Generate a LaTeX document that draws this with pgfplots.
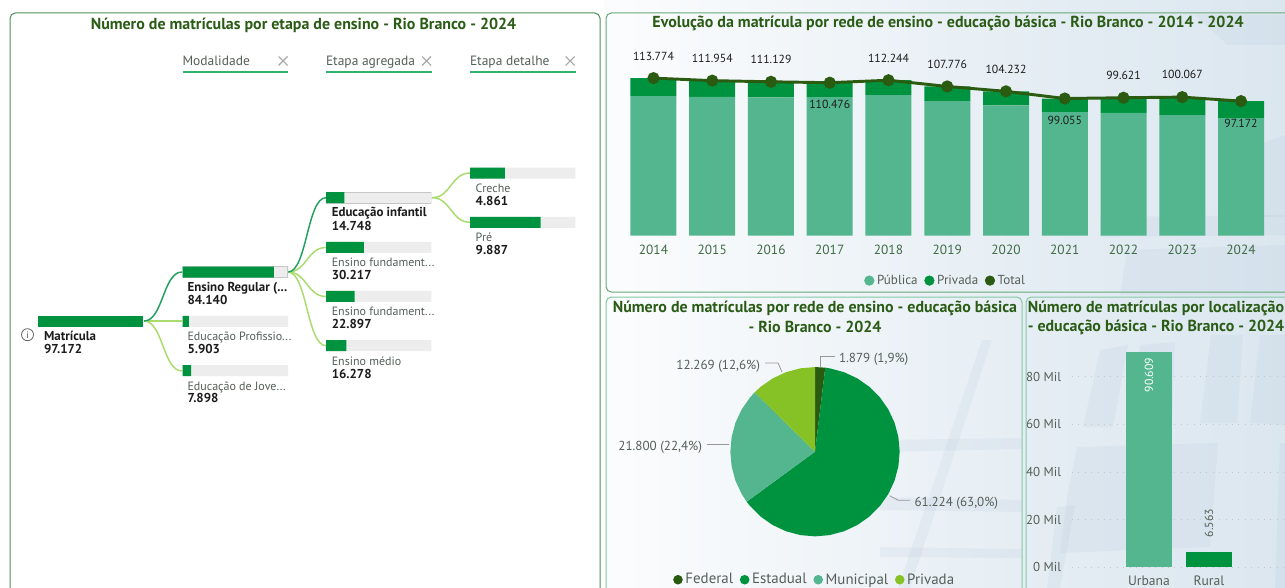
\documentclass[border=0pt]{standalone}
\usepackage{pgfplots}
\pgfplotsset{compat=1.18}
\usepackage{fontspec}
\setmainfont{PT Sans}
\definecolor{cDark}{HTML}{2B5A11}
\definecolor{cGreen}{HTML}{00933F}
\definecolor{cTeal}{HTML}{54B68E}
\definecolor{cLime}{HTML}{86C226}
\definecolor{cTitle}{HTML}{2A5C15}
\definecolor{cText}{HTML}{555F58}
\definecolor{cYear}{HTML}{3F6B45}
\definecolor{cBlack}{HTML}{1C1C1C}
\definecolor{cBar}{HTML}{EDEDED}
\definecolor{cUnder}{HTML}{2FB36F}
\definecolor{cLight}{HTML}{A9DB6E}
\definecolor{cSel}{HTML}{22A05E}
\definecolor{cBorderA}{HTML}{4D8F5A}
\definecolor{cBorderB}{HTML}{84C9A5}
\definecolor{cBgA}{HTML}{E6EEF4}
\definecolor{cBgB}{HTML}{CDDDE9}
\definecolor{cTile}{HTML}{AEBFD6}
\pgfdeclarehorizontalshading{bgshade}{100bp}{color(0bp)=(white); color(20bp)=(white); color(55bp)=(cBgA); color(100bp)=(cBgB)}
\newcommand{\ftitle}{\fontsize{11.95}{13}\selectfont\bfseries\color{cTitle}}
\newcommand{\fsmall}{\fontsize{9.7}{11}\selectfont}
\newcommand{\ftree}{\fontsize{9}{11}\selectfont}
\newcommand{\flab}{\fontsize{8.8}{10}\selectfont}
\begin{document}
\begin{tikzpicture}
\begin{scope}[x=0.75pt,y=-0.75pt]
\path[use as bounding box] (0,0) rectangle (1285,588);
\end{scope}
\clip (0,0) rectangle (963.75pt,-441pt);
\begin{scope}[x=0.75pt,y=-0.75pt,
  txt/.style={inner sep=0pt,outer sep=0pt,anchor=west,font=\ftree,text=cText,text height=8pt,text depth=1.5pt},
  val/.style={inner sep=0pt,outer sep=0pt,anchor=west,font=\fsmall\bfseries,text=cBlack,text height=8pt,text depth=1.5pt},
  lead/.style={draw=black!40,line width=.6pt},
  tile/.style={fill=cTile,fill opacity=.14,draw=none}]
\fill[white] (0,0) rectangle (1285,588);
\shade[shading=bgshade] (604,0) rectangle (1285,588);
% background tiles
\fill[tile] (1083,427) -- (1100,350) -- (1128,345) -- (1113,427) -- cycle;
\fill[tile] (1140,345) -- (1175,342) -- (1172,427) -- (1130,427) -- cycle;
\fill[tile] (1200,423) -- (1211,335) -- (1243,335) -- (1237,423) -- cycle;
\fill[tile] (1250,423) -- (1260,335) -- (1285,335) -- (1285,425) -- cycle;
\fill[tile] (1067,498) -- (1077,447) -- (1218,443) -- (1210,547) -- (1060,553) -- cycle;
\fill[tile] (1280,443) -- (1285,443) -- (1285,588) -- (1275,588) -- cycle;
\fill[tile] (1047,588) -- (1057,507) -- (1075,505) -- (1060,588) -- cycle;
\fill[tile] (880,440) -- (1022,438) -- (1022,449) -- (880,452) -- cycle;
\fill[tile] (880,497) -- (1022,500) -- (1022,512) -- (880,510) -- cycle;
\fill[tile] (880,547) -- (1022,549) -- (1022,558) -- (880,557) -- cycle;
\fill[tile] (982,340) -- (992,340) -- (910,588) -- (898,588) -- cycle;
\fill[tile] (1263,143) -- (1285,135) -- (1285,217) -- (1263,217) -- cycle;
\fill[tile] (1120,295) -- (1127,250) -- (1285,245) -- (1285,295) -- cycle;
\fill[tile] (1195,15) -- (1285,15) -- (1285,45) -- (1228,45) -- cycle;
\fill[tile] (1100,217) -- (1285,215) -- (1285,235) -- (1100,237) -- cycle;
% panels
\draw[cBorderA,line width=.75pt,rounded corners=4pt] (10,13) rectangle (600,610);
\draw[cBorderB!70!cDark,line width=.75pt,rounded corners=4pt] (606,13) rectangle (1300,292);
\draw[cBorderB,line width=.75pt,rounded corners=4pt] (606,297) rectangle (1022,610);
\draw[cBorderB,line width=.75pt,rounded corners=4pt] (1026,297) rectangle (1300,610);
% titles
\node[inner sep=0pt,font=\ftitle] at (303.5,25) {Número de matrículas por etapa de ensino - Rio Branco - 2024};
\node[inner sep=0pt,font=\ftitle] at (948,23) {Evolução da matrícula por rede de ensino - educação básica - Rio Branco - 2014 - 2024};
\node[inner sep=0pt,font=\ftitle] at (815,308) {Número de matrículas por rede de ensino - educação básica};
\node[inner sep=0pt,font=\ftitle] at (815,327) {- Rio Branco - 2024};
\node[inner sep=0pt,font=\ftitle] at (1156,308) {Número de matrículas por localização};
\node[inner sep=0pt,font=\ftitle] at (1156,327) {- educação básica - Rio Branco - 2024};
% tree headers
\foreach \x/\t in {182.5/Modalidade,326/Etapa agregada,470/Etapa detalhe}{
  \node[txt,font=\fontsize{10.1}{12}\selectfont] at (\x,61) {\t};
  \draw[cUnder,line width=1.8pt] (\x,72) -- ++(105.5,0);
}
\foreach \x in {283,426.5,570}{
  \draw[black!35,line width=.8pt] (\x-4.5,56.5) -- (\x+4.5,65.5) (\x-4.5,65.5) -- (\x+4.5,56.5);
}
% connectors
\draw[cLight,line width=1.2pt] (144,321) -- (182,321);
\draw[cLight,line width=1.1pt] (144,321) .. controls (163,321) and (163,371) .. (182,371);
\draw[cSel,line width=1.1pt] (144,321) .. controls (163,321) and (163,272) .. (182,272);
\draw[cLight,line width=1.1pt] (288,272) .. controls (307,272) and (307,247.5) .. (326,247.5);
\draw[cLight,line width=1.1pt] (288,272) .. controls (307,272) and (307,296.5) .. (326,296.5);
\draw[cLight,line width=1.1pt] (288,272) .. controls (307,272) and (307,345.7) .. (326,345.7);
\draw[cSel,line width=1.1pt] (288,272) .. controls (307,272) and (307,197.7) .. (326,197.7);
\draw[cLight,line width=1.1pt] (432,197.7) .. controls (451,197.7) and (451,173) .. (470,173);
\draw[cLight,line width=1.1pt] (432,197.7) .. controls (451,197.7) and (451,222.3) .. (470,222.3);
% tree labels
\draw[black!60,line width=.6pt] (27.5,334.7) circle[radius=4.5pt];
\node[inner sep=0pt,font=\fontsize{7}{8}\selectfont,text=black!70] at (27.5,334.7) {i};
\node[val] at (44,336) {Matrícula};
\node[val] at (44,349) {97.172};
\node[val] at (187.5,286.7) {Ensino Regular (...};
\node[val] at (187.5,300) {84.140};
\node[txt] at (187.5,336) {Educação Profissio...};
\node[val] at (187.5,349) {5.903};
\node[txt] at (187.5,385.7) {Educação de Jove...};
\node[val] at (187.5,398) {7.898};
\node[val] at (331.8,212) {Educação infantil};
\node[val] at (331.8,226) {14.748};
\node[txt] at (331.8,262) {Ensino fundament...};
\node[val] at (331.8,275) {30.217};
\node[txt] at (331.8,311) {Ensino fundament...};
\node[val] at (331.8,324) {22.897};
\node[txt] at (331.8,361) {Ensino médio};
\node[val] at (331.8,374) {16.278};
\node[txt] at (475.7,188) {Creche};
\node[val] at (475.7,201) {4.861};
\node[txt] at (475.7,237) {Pré};
\node[val] at (475.7,250) {9.887};
% pie labels
\draw[lead] (820,367) -- (820,356) -- (835,356);
\node[txt,font=\fontsize{9.8}{11}\selectfont] at (839,357.7) {1.879 (1,9\%)};
\draw[lead] (765,363) -- (778,363) -- (782,372);
\node[txt,anchor=east,font=\fontsize{9.8}{11}\selectfont] at (760,364.7) {12.269 (12,6\%)};
\draw[lead] (707,444.7) -- (729,444.7);
\node[txt,anchor=east,font=\fontsize{9.8}{11}\selectfont] at (702,445.7) {21.800 (22,4\%)};
\draw[lead] (889.6,495.7) -- (898.4,500.3) -- (910,500.3);
\node[txt,font=\fontsize{9.8}{11}\selectfont] at (914.5,501.7) {61.224 (63,0\%)};
\end{scope}
% tree bars
\pgfplotsset{treecol/.style={anchor=north west,scale only axis,width=79.1pt,height=187.5pt,
  hide axis,ymin=160,ymax=410,y dir=reverse,xbar,bar width=8.25pt,bar shift=0pt}}
\begin{axis}[treecol,at={(28.5pt,-120pt)},xmin=0,xmax=97172]
\addplot[draw=none,fill=cGreen] coordinates {(97172,321)};
\end{axis}
\begin{axis}[treecol,at={(136.9pt,-120pt)},xmin=0,xmax=97172]
\addplot[draw=none,fill=cBar] coordinates {(97172,321.3) (97172,370.7)};
\addplot[draw=black!22,line width=.8pt,fill=cBar] coordinates {(97172,272)};
\addplot[draw=none,fill=cGreen] coordinates {(84140,272) (5903,321.3) (7898,370.7)};
\end{axis}
\begin{axis}[treecol,at={(244.5pt,-120pt)},xmin=0,xmax=84140]
\addplot[draw=none,fill=cBar] coordinates {(84140,247.3) (84140,296.3) (84140,345.7)};
\addplot[draw=black!22,line width=.8pt,fill=cBar] coordinates {(84140,197.7)};
\addplot[draw=none,fill=cGreen] coordinates {(14748,197.7) (30217,247.3) (22897,296.3) (16278,345.7)};
\end{axis}
\begin{axis}[treecol,at={(352.5pt,-120pt)},xmin=0,xmax=14748]
\addplot[draw=none,fill=cBar] coordinates {(14748,173) (14748,222.3)};
\addplot[draw=none,fill=cGreen] coordinates {(4861,173) (9887,222.3)};
\end{axis}
% evolution
\begin{axis}[at={(468.08pt,-176.78pt)},anchor=south west,scale only axis,width=484.7pt,height=124.65pt,
  xmin=2013.5,xmax=2024.5,ymin=0,ymax=120000,enlargelimits=false,
  ybar stacked,bar width=34.5pt,axis line style={draw=none},tick style={draw=none},
  ytick=\empty,xtick={2014,2015,2016,2017,2018,2019,2020,2021,2022,2023,2024},
  xticklabels={2014,2015,2016,2017,2018,2019,2020,2021,2022,2023,2024},
  xticklabel style={font=\fontsize{10}{12}\selectfont,text=cYear,inner sep=0pt,anchor=center,yshift=-10.5pt}]
\addplot[draw=none,fill=cTeal] coordinates {(2014,100870) (2015,100150) (2016,99900) (2017,100000) (2018,101590) (2019,97260) (2020,94150) (2021,89300) (2022,88600) (2023,87130) (2024,84903)};
\addplot[draw=none,fill=cGreen] coordinates {(2014,12904) (2015,11804) (2016,11229) (2017,10476) (2018,10654) (2019,10516) (2020,10082) (2021,9755) (2022,11021) (2023,12937) (2024,12269)};
\end{axis}
\begin{axis}[at={(468.08pt,-176.78pt)},anchor=south west,scale only axis,width=484.7pt,height=124.65pt,
  xmin=2013.5,xmax=2024.5,ymin=0,ymax=120000,enlargelimits=false,hide axis,clip=false,
  legend style={at={(0.498,-0.27)},anchor=center,draw=none,fill=none,inner sep=0pt,outer sep=0pt,
    font=\fontsize{9.8}{12}\selectfont,text=cText,/tikz/every even column/.append style={column sep=3pt}},legend columns=3,
  legend image code/.code={\fill[#1] (0pt,0pt) circle[radius=3.6pt];},legend cell align=left]
\addlegendimage{cTeal}\addlegendentry{Pública}
\addlegendimage{cGreen}\addlegendentry{Privada}
\addlegendimage{cDark}\addlegendentry{Total}
\addplot[cDark,line width=2.2pt,mark=*,mark size=3.4pt,mark options={fill=cDark,draw=none},forget plot] coordinates {(2014,113774) (2015,111954) (2016,111129) (2017,110476) (2018,112244) (2019,107776) (2020,104232) (2021,99055) (2022,99621) (2023,100067) (2024,97172)};
\tikzset{lab/.style={inner sep=0pt,outer sep=0pt,anchor=center,font=\flab,text=cBlack}}
\node[lab,yshift=16.5pt] at (axis cs:2014,113774) {113.774};
\node[lab,yshift=17pt] at (axis cs:2015,111954) {111.954};
\node[lab,yshift=17pt] at (axis cs:2016,111129) {111.129};
\node[lab,yshift=-16pt] at (axis cs:2017,110476) {110.476};
\node[lab,yshift=16.5pt] at (axis cs:2018,112244) {112.244};
\node[lab,yshift=16.5pt] at (axis cs:2019,107776) {107.776};
\node[lab,yshift=16.5pt] at (axis cs:2020,104232) {104.232};
\node[lab,yshift=-16.5pt] at (axis cs:2021,99055) {99.055};
\node[lab,yshift=16.5pt] at (axis cs:2022,99621) {99.621};
\node[lab,yshift=17pt] at (axis cs:2023,100067) {100.067};
\node[lab,yshift=-16.5pt] at (axis cs:2024,97172) {97.172};
\end{axis}
% pie
\begin{axis}[at={(611.25pt,-338.78pt)},anchor=center,scale only axis,width=127pt,height=127pt,hide axis,
  xmin=-1,xmax=1,ymin=-1,ymax=1,clip=false,
  legend style={at={(0.5,-0.256)},anchor=center,draw=none,fill=none,inner sep=0pt,outer sep=0pt,
    font=\fontsize{11.2}{13}\selectfont,text=cText,/tikz/every even column/.append style={column sep=3pt}},legend columns=4,
  legend image code/.code={\fill[#1] (0pt,0pt) circle[radius=3.6pt];},legend cell align=left]
\addplot[draw=none,fill=cDark] coordinates {(0,0) (0,1) (.1212,.9926)};
\addlegendentry{Federal}
\addplot[draw=none,fill=cGreen] coordinates {(0,0) (.1212,.9926) (.1736,.9848) (.3420,.9397) (.5,.8660) (.6428,.7660) (.7660,.6428) (.8660,.5) (.9397,.3420) (.9848,.1736) (1,0) (.9848,-.1736) (.9397,-.3420) (.8660,-.5) (.7660,-.6428) (.6428,-.7660) (.5,-.8660) (.3420,-.9397) (.1736,-.9848) (0,-1) (-.1736,-.9848) (-.3420,-.9397) (-.5,-.8660) (-.6428,-.7660) (-.7660,-.6428) (-.8068,-.5908)};
\addlegendentry{Estadual}
\addplot[draw=none,fill=cTeal] coordinates {(0,0) (-.8068,-.5908) (-.8660,-.5) (-.9397,-.3420) (-.9848,-.1736) (-1,0) (-.9848,.1736) (-.9397,.3420) (-.8660,.5) (-.7660,.6428) (-.7128,.7014)};
\addlegendentry{Municipal}
\addplot[draw=none,fill=cLime] coordinates {(0,0) (-.7128,.7014) (-.6428,.7660) (-.5,.8660) (-.3420,.9397) (-.1736,.9848) (0,1)};
\addlegendentry{Privada}
\end{axis}
% location
\begin{axis}[at={(804pt,-425.48pt)},anchor=south west,scale only axis,width=165.75pt,height=169.7pt,
  xmin=-1.283,xmax=2.4,ymin=0,ymax=95000,enlargelimits=false,clip=false,scaled y ticks=false,
  ybar,bar width=34pt,bar shift=0pt,axis line style={draw=none},tick style={draw=none},
  ymajorgrids,grid style={black!22,line width=.7pt,dash pattern=on .8pt off 4pt},
  ytick={0,20000,40000,60000,80000},yticklabels={0 Mil,20 Mil,40 Mil,60 Mil,80 Mil},
  yticklabel style={font=\fsmall,text=cText,inner sep=0pt,anchor=east,xshift=-8pt},
  xtick={0,1},xticklabels={Urbana,Rural},
  xticklabel style={font=\fontsize{10.2}{12}\selectfont,text=cText,inner sep=0pt,anchor=center,yshift=-5.8pt}]
\addplot[draw=none,fill=cTeal] coordinates {(0,90609)};
\addplot[draw=none,fill=cGreen] coordinates {(1,6563)};
\node[font=\flab,text=white,rotate=90,inner sep=0pt] at (axis cs:0,80700) {90.609};
\node[font=\flab,text=cText,rotate=90,inner sep=0pt] at (axis cs:1,18600) {6.563};
\end{axis}
\end{tikzpicture}
\end{document}
